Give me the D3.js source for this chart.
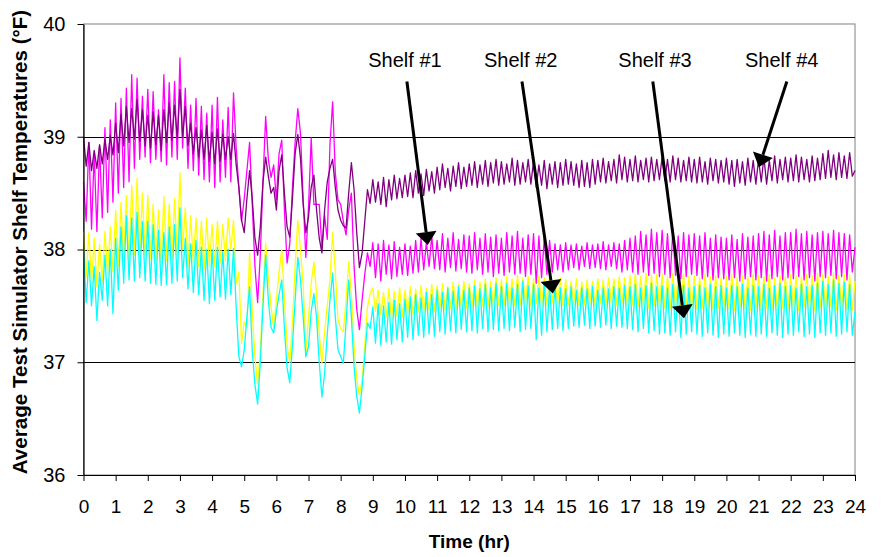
<!DOCTYPE html>
<html>
<head>
<meta charset="utf-8">
<script src="https://cdn.jsdelivr.net/npm/d3@7"></script>
<style>
  body { margin: 0; background: #fff; }
  text { font-family: Arial, "Liberation Sans", sans-serif; }
</style>
</head>
<body>
<div id="chart"></div>
<script>
// readings every 5 minutes, one row per hour
const sampleMinutes = 5;

// Shelf #1 (magenta)
const shelf1Temps = [
  38.60, 38.25, 38.95, 38.18, 38.85, 38.16, 38.92, 38.28, 39.08, 38.33, 39.15, 38.42,
  39.30, 38.50, 39.34, 38.55, 39.43, 38.60, 39.55, 38.72, 39.52, 38.80, 39.36, 38.82,
  39.42, 38.77, 39.40, 38.80, 39.24, 38.78, 39.55, 38.75, 39.48, 38.82, 39.49, 38.80,
  39.70, 38.90, 39.43, 38.72, 39.28, 38.70, 39.34, 38.66, 39.27, 38.62, 39.21, 38.60,
  39.28, 38.55, 39.35, 38.60, 39.15, 38.64, 39.26, 38.60, 39.39, 38.90, 38.55, 38.25,
  38.45, 38.70, 38.95, 38.40, 37.85, 37.53, 37.95, 38.60, 39.18, 38.80, 38.64, 38.75,
  38.44, 38.85, 38.97, 38.35, 37.88, 38.05, 38.55, 38.95, 39.25, 39.03, 38.45, 37.93,
  38.38, 38.99, 38.40, 38.40, 38.40, 38.02, 38.30, 38.09, 38.93, 39.31, 38.68, 38.44,
  38.40, 38.25, 38.13, 38.35, 38.50, 37.85, 37.47, 37.29, 37.55, 37.78, 37.97, 37.85,
  38.06, 37.75, 38.05, 37.72, 38.08, 37.78, 38.04, 37.74, 38.07, 37.76, 38.02, 37.78,
  38.05, 37.77, 38.03, 37.79, 38.08, 37.80, 38.10, 37.82, 38.06, 37.85, 38.12, 37.83,
  38.08, 37.82, 38.14, 37.80, 38.10, 37.84, 38.15, 37.81, 38.09, 37.83, 38.13, 37.80,
  38.12, 37.79, 38.15, 37.82, 38.10, 37.78, 38.14, 37.80, 38.11, 37.76, 38.13, 37.79,
  38.10, 37.77, 38.15, 37.80, 38.12, 37.78, 38.16, 37.79, 38.10, 37.76, 38.13, 37.78,
  38.14, 37.70, 38.12, 37.75, 38.10, 37.78, 38.08, 37.80, 38.05, 37.82, 38.04, 37.80,
  38.06, 37.82, 38.04, 37.84, 38.05, 37.82, 38.03, 37.85, 38.06, 37.83, 38.04, 37.84,
  38.05, 37.83, 38.07, 37.82, 38.04, 37.85, 38.06, 37.83, 38.05, 37.80, 38.08, 37.82,
  38.10, 37.80, 38.12, 37.78, 38.16, 37.80, 38.13, 37.77, 38.18, 37.79, 38.15, 37.76,
  38.17, 37.78, 38.14, 37.75, 38.16, 37.77, 38.12, 37.74, 38.15, 37.76, 38.13, 37.78,
  38.14, 37.77, 38.12, 37.74, 38.15, 37.76, 38.10, 37.73, 38.13, 37.75, 38.11, 37.74,
  38.10, 37.73, 38.13, 37.75, 38.09, 37.72, 38.14, 37.74, 38.11, 37.76, 38.12, 37.73,
  38.14, 37.75, 38.16, 37.72, 38.13, 37.74, 38.17, 37.76, 38.12, 37.73, 38.15, 37.75,
  38.15, 37.74, 38.18, 37.76, 38.14, 37.73, 38.16, 37.75, 38.13, 37.72, 38.15, 37.76,
  38.16, 37.75, 38.14, 37.77, 38.17, 37.74, 38.15, 37.76, 38.14, 37.73, 38.13, 37.80,
  38.02
];

// Shelf #2 (yellow)
const shelf2Temps = [
  38.16, 37.75, 38.15, 37.70, 38.10, 37.67, 38.05, 37.72, 38.16, 37.78, 38.20, 37.80,
  38.35, 37.85, 38.42, 37.90, 38.48, 37.92, 38.57, 37.95, 38.63, 37.98, 38.50, 37.95,
  38.48, 37.92, 38.40, 37.90, 38.35, 37.88, 38.47, 37.90, 38.40, 37.92, 38.45, 37.95,
  38.68, 38.00, 38.37, 37.85, 38.30, 37.88, 38.28, 37.85, 38.25, 37.82, 38.28, 37.85,
  38.22, 37.85, 38.25, 37.88, 38.22, 37.90, 38.28, 38.00, 38.26, 37.70, 37.80, 37.17,
  37.36, 37.31, 37.97, 37.44, 37.05, 36.80, 37.10, 37.60, 38.06, 37.75, 37.50, 37.30,
  37.55, 37.80, 38.00, 37.55, 37.15, 37.00, 37.35, 37.85, 38.26, 38.00, 37.70, 37.05,
  37.40, 37.70, 37.89, 37.61, 37.25, 36.99, 37.27, 37.50, 37.73, 38.15, 37.80, 37.38,
  37.30, 37.27, 37.55, 37.89, 37.60, 37.14, 36.85, 36.71, 36.84, 37.15, 37.49, 37.61,
  37.66, 37.45, 37.64, 37.42, 37.62, 37.40, 37.65, 37.38, 37.63, 37.41, 37.66, 37.40,
  37.64, 37.43, 37.67, 37.42, 37.65, 37.45, 37.68, 37.44, 37.66, 37.46, 37.69, 37.45,
  37.68, 37.47, 37.70, 37.46, 37.67, 37.48, 37.71, 37.47, 37.69, 37.49, 37.72, 37.48,
  37.70, 37.49, 37.73, 37.48, 37.71, 37.50, 37.74, 37.49, 37.72, 37.50, 37.75, 37.51,
  37.73, 37.50, 37.76, 37.52, 37.74, 37.50, 37.77, 37.51, 37.75, 37.52, 37.76, 37.50,
  37.74, 37.52, 37.77, 37.50, 37.75, 37.51, 37.76, 37.53, 37.74, 37.52, 37.75, 37.50,
  37.73, 37.51, 37.72, 37.52, 37.74, 37.50, 37.71, 37.51, 37.73, 37.52, 37.72, 37.50,
  37.74, 37.52, 37.73, 37.50, 37.75, 37.53, 37.74, 37.51, 37.76, 37.52, 37.75, 37.50,
  37.77, 37.51, 37.78, 37.49, 37.76, 37.50, 37.79, 37.48, 37.77, 37.50, 37.78, 37.49,
  37.78, 37.48, 37.76, 37.47, 37.79, 37.49, 37.77, 37.47, 37.78, 37.48, 37.76, 37.46,
  37.77, 37.47, 37.75, 37.48, 37.78, 37.46, 37.76, 37.47, 37.77, 37.48, 37.75, 37.46,
  37.76, 37.47, 37.78, 37.46, 37.75, 37.48, 37.77, 37.47, 37.76, 37.46, 37.78, 37.48,
  37.77, 37.46, 37.76, 37.48, 37.78, 37.47, 37.75, 37.46, 37.77, 37.48, 37.76, 37.47,
  37.78, 37.48, 37.77, 37.46, 37.76, 37.49, 37.78, 37.47, 37.77, 37.46, 37.79, 37.48,
  37.78, 37.47, 37.76, 37.49, 37.79, 37.46, 37.77, 37.48, 37.78, 37.47, 37.77, 37.46,
  37.72
];

// Shelf #3 (cyan)
const shelf3Temps = [
  38.00, 37.53, 37.90, 37.50, 37.85, 37.37, 37.80, 37.55, 37.95, 37.50, 38.00, 37.43,
  38.10, 37.64, 38.20, 37.70, 38.30, 37.73, 38.28, 37.72, 38.33, 37.75, 38.25, 37.72,
  38.25, 37.70, 38.22, 37.69, 38.17, 37.68, 38.15, 37.69, 38.20, 37.70, 38.22, 37.72,
  38.37, 37.75, 38.10, 37.65, 38.05, 37.62, 38.08, 37.60, 38.02, 37.55, 38.00, 37.52,
  38.00, 37.55, 38.02, 37.58, 37.98, 37.56, 38.00, 37.60, 38.01, 37.48, 37.05, 36.96,
  37.11, 37.40, 37.67, 37.10, 36.80, 36.63, 37.00, 37.50, 37.95, 37.55, 37.31, 37.26,
  37.45, 37.60, 37.73, 37.30, 36.95, 36.82, 37.15, 37.55, 37.93, 37.73, 37.40, 37.05,
  37.14, 37.45, 37.61, 37.40, 37.00, 36.69, 36.90, 37.25, 37.55, 37.79, 37.40, 37.11,
  37.05, 36.99, 37.35, 37.73, 37.40, 36.96, 36.70, 36.55, 36.78, 37.05, 37.35, 37.30,
  37.49, 37.17, 37.52, 37.15, 37.50, 37.18, 37.53, 37.16, 37.55, 37.20, 37.52, 37.18,
  37.56, 37.22, 37.58, 37.20, 37.60, 37.24, 37.57, 37.22, 37.62, 37.25, 37.60, 37.23,
  37.64, 37.27, 37.62, 37.25, 37.66, 37.28, 37.63, 37.26, 37.67, 37.29, 37.64, 37.27,
  37.66, 37.28, 37.68, 37.26, 37.65, 37.30, 37.69, 37.27, 37.66, 37.29, 37.70, 37.28,
  37.67, 37.30, 37.70, 37.28, 37.66, 37.31, 37.69, 37.27, 37.72, 37.29, 37.68, 37.30,
  37.69, 37.20, 37.66, 37.24, 37.70, 37.27, 37.67, 37.29, 37.68, 37.30, 37.66, 37.28,
  37.65, 37.30, 37.67, 37.32, 37.64, 37.31, 37.66, 37.33, 37.65, 37.30, 37.67, 37.32,
  37.64, 37.31, 37.66, 37.33, 37.65, 37.30, 37.67, 37.32, 37.66, 37.31, 37.68, 37.30,
  37.67, 37.29, 37.69, 37.27, 37.66, 37.30, 37.68, 37.26, 37.70, 37.28, 37.67, 37.25,
  37.68, 37.26, 37.66, 37.24, 37.69, 37.27, 37.67, 37.22, 37.68, 37.25, 37.66, 37.27,
  37.67, 37.25, 37.68, 37.23, 37.66, 37.26, 37.69, 37.24, 37.67, 37.22, 37.68, 37.25,
  37.66, 37.23, 37.68, 37.26, 37.67, 37.24, 37.69, 37.22, 37.66, 37.25, 37.68, 37.23,
  37.67, 37.25, 37.69, 37.23, 37.66, 37.26, 37.68, 37.24, 37.70, 37.22, 37.67, 37.25,
  37.68, 37.24, 37.66, 37.27, 37.69, 37.23, 37.67, 37.25, 37.68, 37.22, 37.70, 37.26,
  37.72, 37.24, 37.69, 37.26, 37.73, 37.23, 37.70, 37.25, 37.71, 37.27, 37.69, 37.24,
  37.45
];

// Shelf #4 (purple)
const shelf4Temps = [
  39.00, 38.74, 38.95, 38.70, 38.88, 38.72, 38.93, 38.76, 38.98, 38.80, 39.01, 38.84,
  39.12, 38.86, 39.20, 38.92, 39.27, 38.95, 39.25, 38.98, 39.33, 38.96, 39.24, 38.92,
  39.19, 38.90, 39.22, 38.93, 39.19, 38.88, 39.24, 38.95, 39.30, 38.97, 39.28, 38.99,
  39.42, 39.00, 39.27, 38.92, 39.12, 38.85, 39.08, 38.82, 39.06, 38.80, 39.10, 38.78,
  39.04, 38.76, 39.07, 38.78, 39.02, 38.80, 39.00, 38.80, 39.03, 38.75, 38.55, 38.26,
  38.15, 38.45, 38.70, 38.45, 38.10, 37.95, 38.20, 38.60, 38.82, 38.65, 38.50, 38.55,
  38.35, 38.70, 38.84, 38.50, 38.20, 38.11, 38.45, 38.85, 39.02, 38.81, 38.40, 38.15,
  38.29, 38.55, 38.66, 38.35, 38.10, 37.97, 38.35, 38.60, 38.72, 38.80, 38.55, 38.35,
  38.26, 38.21, 38.19, 38.50, 38.77, 38.53, 38.15, 37.84, 37.97, 38.25, 38.53, 38.41,
  38.62, 38.42, 38.60, 38.40, 38.64, 38.38, 38.62, 38.44, 38.66, 38.45, 38.63, 38.46,
  38.66, 38.47, 38.68, 38.46, 38.70, 38.50, 38.67, 38.48, 38.71, 38.52, 38.69, 38.50,
  38.73, 38.53, 38.76, 38.55, 38.72, 38.52, 38.74, 38.56, 38.77, 38.54, 38.73, 38.56,
  38.76, 38.57, 38.78, 38.55, 38.75, 38.58, 38.79, 38.56, 38.77, 38.59, 38.80, 38.57,
  38.78, 38.58, 38.76, 38.60, 38.81, 38.57, 38.79, 38.58, 38.77, 38.60, 38.80, 38.58,
  38.78, 38.55, 38.75, 38.57, 38.79, 38.54, 38.76, 38.58, 38.78, 38.55, 38.77, 38.57,
  38.80, 38.58, 38.78, 38.57, 38.76, 38.55, 38.79, 38.56, 38.77, 38.55, 38.80, 38.58,
  38.79, 38.60, 38.81, 38.59, 38.78, 38.61, 38.80, 38.59, 38.84, 38.62, 38.82, 38.60,
  38.80, 38.61, 38.83, 38.60, 38.79, 38.62, 38.81, 38.60, 38.82, 38.61, 38.80, 38.62,
  38.82, 38.61, 38.80, 38.60, 38.83, 38.62, 38.81, 38.60, 38.79, 38.61, 38.82, 38.60,
  38.80, 38.59, 38.82, 38.60, 38.78, 38.58, 38.81, 38.61, 38.80, 38.59, 38.79, 38.60,
  38.81, 38.58, 38.79, 38.56, 38.80, 38.59, 38.78, 38.57, 38.81, 38.60, 38.79, 38.58,
  38.80, 38.60, 38.82, 38.58, 38.79, 38.61, 38.83, 38.59, 38.80, 38.62, 38.82, 38.60,
  38.81, 38.61, 38.84, 38.60, 38.82, 38.62, 38.80, 38.60, 38.83, 38.61, 38.81, 38.62,
  38.85, 38.63, 38.88, 38.64, 38.84, 38.62, 38.86, 38.64, 38.83, 38.63, 38.86, 38.65,
  38.70
];

const shelfNames = ["Shelf #1", "Shelf #2", "Shelf #3", "Shelf #4"];
const shelfColors = ["#ff00ff", "#ffff00", "#00ffff", "#800080"];
const xTicks = [0, 1, 2, 3, 4, 5, 6, 7, 8, 9, 10, 11, 12, 13, 14, 15, 16, 17, 18, 19, 20, 21, 22, 23, 24];
const yTicks = [36, 37, 38, 39, 40];
const gridValues = [37, 38, 39];

// annotation labels and arrows, in hours / degrees
const labelHour = [10.0, 13.6, 17.78, 21.72];
const labelTemp = 39.62;
const arrowStartHour = [10.06, 13.64, 17.71, 21.88];
const arrowStartTemp = 39.49;
const arrowTipHour = [10.71, 14.6, 18.68, 21.01];
const arrowTipTemp = [38.04, 37.61, 37.39, 38.73];

const svgWidth = 882, svgHeight = 557;
const plotLeft = 83.5, plotRight = 855, plotTop = 24, plotBottom = 475;

const svg = d3.select("#chart").append("svg")
  .attr("width", svgWidth)
  .attr("height", svgHeight);

const x = d3.scaleLinear().domain([0, 24]).range([plotLeft, plotRight]);
const y = d3.scaleLinear().domain([36, 40]).range([plotBottom, plotTop]);

// frame and gridlines
svg.append("rect")
  .attr("x", plotLeft).attr("y", plotTop)
  .attr("width", plotRight - plotLeft).attr("height", plotBottom - plotTop)
  .attr("fill", "none").attr("stroke", "#808080").attr("stroke-width", 1);

svg.selectAll(".grid").data(gridValues).enter().append("line")
  .attr("x1", plotLeft).attr("x2", plotRight)
  .attr("y1", d => Math.round(y(d)) + 0.5).attr("y2", d => Math.round(y(d)) + 0.5)
  .attr("stroke", "#000").attr("stroke-width", 1);

const shelves = [shelf1Temps, shelf2Temps, shelf3Temps, shelf4Temps];
const line = d3.line()
  .x((d, i) => x(i * sampleMinutes / 60))
  .y(d => y(d));

shelves.forEach((temps, k) => {
  svg.append("path")
    .datum(temps)
    .attr("fill", "none")
    .attr("stroke", shelfColors[k])
    .attr("stroke-width", 1.3)
    .attr("stroke-linejoin", "round")
    .attr("d", line);
});

// axes
const yAxis = svg.append("g")
  .attr("transform", "translate(" + plotLeft + ",0)")
  .call(d3.axisLeft(y).tickValues(yTicks).tickFormat(d3.format("d"))
    .tickSize(6).tickSizeOuter(0).tickPadding(12));
const xAxis = svg.append("g")
  .attr("transform", "translate(0," + plotBottom + ")")
  .call(d3.axisBottom(x).tickValues(xTicks).tickFormat(d3.format("d"))
    .tickSize(6).tickSizeOuter(0).tickPadding(19));
[yAxis, xAxis].forEach(g => {
  g.selectAll("path").attr("stroke", "#000").attr("stroke-width", 1.2);
  g.selectAll("line").attr("stroke", "#000");
  g.selectAll("text").attr("fill", "#000")
    .style("font-family", "Arial, 'Liberation Sans', sans-serif");
});
yAxis.selectAll("text").style("font-size", "20px");
xAxis.selectAll("text").style("font-size", "19px");

svg.append("text")
  .attr("x", (plotLeft + plotRight) / 2).attr("y", 548)
  .attr("text-anchor", "middle")
  .style("font-size", "19px").style("font-weight", "bold")
  .text("Time (hr)");

svg.append("text")
  .attr("transform", "translate(27,242) rotate(-90)")
  .attr("text-anchor", "middle")
  .style("font-size", "20.6px").style("font-weight", "bold")
  .text("Average Test Simulator Shelf Temperatures (°F)");

// shelf labels with arrows
shelfNames.forEach((name, k) => {
  svg.append("text")
    .attr("x", x(labelHour[k])).attr("y", y(labelTemp))
    .attr("text-anchor", "middle")
    .style("font-size", "20px")
    .text(name);

  const x0 = x(arrowStartHour[k]), y0 = y(arrowStartTemp);
  const x1 = x(arrowTipHour[k]), y1 = y(arrowTipTemp[k]);
  const len = Math.hypot(x1 - x0, y1 - y0);
  const ux = (x1 - x0) / len, uy = (y1 - y0) / len;
  const headLen = 13, headHalf = 10.5;
  const bx = x1 - ux * headLen, by = y1 - uy * headLen;

  svg.append("line")
    .attr("x1", x0).attr("y1", y0).attr("x2", bx).attr("y2", by)
    .attr("stroke", "#000").attr("stroke-width", 3);
  svg.append("path")
    .attr("d", "M" + x1 + "," + y1 +
      "L" + (bx - uy * headHalf) + "," + (by + ux * headHalf) +
      "L" + (bx + uy * headHalf) + "," + (by - ux * headHalf) + "Z")
    .attr("fill", "#000");
});
</script>
</body>
</html>
